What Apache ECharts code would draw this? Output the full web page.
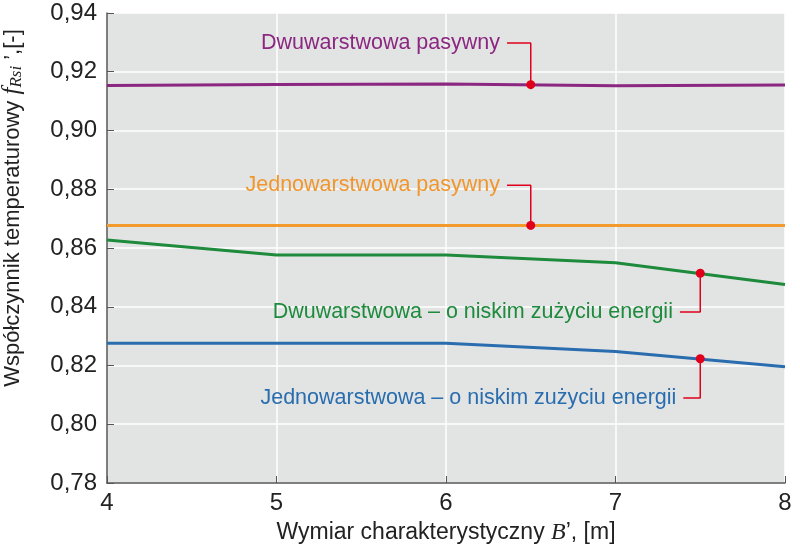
<!DOCTYPE html>
<html>
<head>
<meta charset="utf-8">
<script src="https://cdn.jsdelivr.net/npm/echarts@6/dist/echarts.min.js"></script>
<style>
  html, body { margin: 0; padding: 0; background: #fff; }
  #chart { width: 800px; height: 552px; }
</style>
</head>
<body>
<div id="chart"></div>
<script>
// wymiar B' [m]
let xValues = [4, 5, 6, 7, 8]
let dwuPasywny = [0.9153, 0.9157, 0.9158, 0.9152, 0.9155]
let jednoPasywny = [0.8677, 0.8677, 0.8677, 0.8677, 0.8677]
let dwuNiskie = [0.8627, 0.8576, 0.8576, 0.8550, 0.8476]
let jednoNiskie = [0.8276, 0.8276, 0.8276, 0.8248, 0.8196]
let yTicks = [0.78, 0.80, 0.82, 0.84, 0.86, 0.88, 0.90, 0.92, 0.94]

// punkty opisów: punkt na linii, wysokość opisu, koniec kreski
let notes = [
    { name: 'Dwuwarstwowa pasywny', color: '#8c2781', at: [6.5, 0.9156], labelY: 0.9298, endX: 6.36 },
    { name: 'Jednowarstwowa pasywny', color: '#f0962e', at: [6.5, 0.8677], labelY: 0.8814, endX: 6.36 },
    { name: 'Dwuwarstwowa – o niskim zużyciu energii', color: '#1d8a3c', at: [7.5, 0.8514], labelY: 0.8382, endX: 7.38 },
    { name: 'Jednowarstwowa – o niskim zużyciu energii', color: '#2a6daf', at: [7.5, 0.8223], labelY: 0.8089, endX: 7.40 }
]

let font = '"Liberation Sans", Arial, sans-serif'

function pairs(ys) {
    return xValues.map((x, i) => [x, ys[i]])
}

let mainLines = [
    { data: dwuPasywny, color: '#8c2781' },
    { data: jednoPasywny, color: '#f39a2c' },
    { data: dwuNiskie, color: '#1d8a3c' },
    { data: jednoNiskie, color: '#2a6daf' }
]

let series = mainLines.map(s => ({
    type: 'line',
    data: pairs(s.data),
    showSymbol: false,
    lineStyle: { color: s.color, width: 3 },
    z: 2
}))

notes.forEach(n => {
    // kreska od punktu do opisu
    series.push({
        type: 'line',
        data: [
            { value: n.at, symbolSize: 9 },
            { value: [n.at[0], n.labelY], symbolSize: 0 },
            {
                value: [n.endX, n.labelY], symbolSize: 0,
                label: {
                    show: true, position: 'left', distance: 7,
                    formatter: n.name, color: n.color,
                    fontSize: 21.5, fontFamily: font
                }
            }
        ],
        symbol: 'circle',
        showSymbol: true,
        showAllSymbol: true,
        itemStyle: { color: '#e0001b' },
        lineStyle: { color: '#e0001b', width: 1.5 },
        z: 3
    })
})

let chart = echarts.init(document.getElementById('chart'))
chart.setOption({
    animation: false,
    grid: {
        left: 107, right: 15, top: 13, bottom: 69,
        outerBoundsMode: 'none',
        show: true, backgroundColor: '#e2e4e4', borderWidth: 0
    },
    xAxis: {
        type: 'value',
        min: 4, max: 8, interval: 1,
        axisLine: { lineStyle: { color: '#555', width: 1.5 } },
        axisTick: { inside: true, length: 7, lineStyle: { color: '#555' } },
        axisLabel: { color: '#222', fontSize: 24, fontFamily: font, margin: 8 },
        splitLine: { lineStyle: { color: '#ffffff', width: 1.5 } },
        name: "Wymiar charakterystyczny {i|B}’, [m]",
        nameLocation: 'middle',
        nameGap: 38,
        nameTextStyle: {
            color: '#222', fontSize: 23, fontFamily: font,
            rich: { i: { fontStyle: 'italic', fontFamily: 'Liberation Serif', fontSize: 24, color: '#222' } }
        }
    },
    yAxis: {
        type: 'value',
        min: 0.78, max: 0.94, interval: 0.02,
        axisLine: { show: true, lineStyle: { color: '#555', width: 1.5 } },
        axisTick: { show: true, inside: true, length: 7, lineStyle: { color: '#555' } },
        axisLabel: {
            color: '#222', fontSize: 24, fontFamily: font, margin: 10,
            formatter: v => {
                let t = yTicks.find(k => Math.abs(k - v) < 1e-6)
                return (t !== undefined ? t : v).toFixed(2).replace('.', ',')
            }
        },
        splitLine: { lineStyle: { color: '#ffffff', width: 1.5 } },
        name: 'Współczynnik temperaturowy {f|f}{s|Rsi} ’,[-]',
        nameLocation: 'middle',
        nameGap: 82,
        nameRotate: 90,
        nameTextStyle: {
            color: '#222', fontSize: 22, fontFamily: font,
            padding: [0, 0, 0, 80],
            rich: {
                f: { fontStyle: 'italic', fontFamily: 'Liberation Serif', fontSize: 25, color: '#222' },
                s: { fontStyle: 'italic', fontFamily: 'Liberation Serif', fontSize: 17, color: '#222', verticalAlign: 'bottom', padding: [8, 0, 0, 0] }
            }
        }
    },
    series: series
})
</script>
</body>
</html>
